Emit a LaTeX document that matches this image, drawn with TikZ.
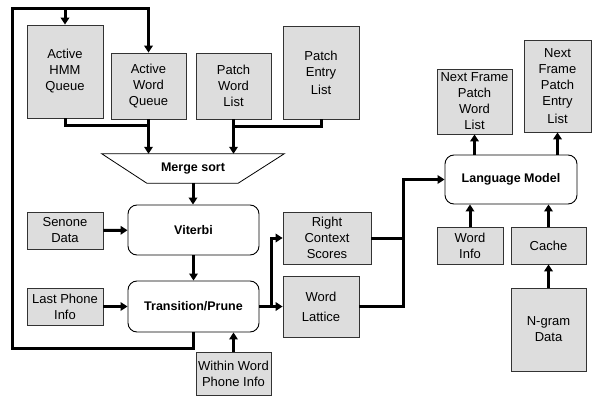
\documentclass[tikz,border=0pt]{standalone}
\usepackage{fontspec}
\setmainfont{Liberation Sans}
\usetikzlibrary{arrows.meta}
\definecolor{boxgray}{RGB}{221,221,221}
\tikzset{
  store/.style={draw=black!80, fill=boxgray, line width=0.8pt, inner sep=0pt, align=center,
    font=\fontsize{13}{16}\selectfont},
  proc/.style={draw, fill=white, rounded corners=9pt, line width=0.9pt, inner sep=0pt, align=center,
    font=\fontsize{12.5}{15}\selectfont\bfseries},
  wire/.style={line width=3pt},
  flow/.style={line width=3pt, -{Triangle[length=7pt,width=8.5pt]}},
}
\begin{document}
\begin{tikzpicture}[x=1pt, y=-1pt]
\useasboundingbox (0,0) rectangle (595,396);

% Queues and lists on top
\node[store, minimum width=76pt, minimum height=93pt] (hmm) at (65,71.5) {Active\\HMM\\Queue};
\node[store, minimum width=75pt, minimum height=66pt] (awq) at (148.5,86) {Active\\Word\\Queue};
\node[store, minimum width=75pt, minimum height=66pt] (pwl) at (233.5,86) {Patch\\Word\\List};
\node[store, minimum width=76pt, minimum height=93pt] (pel) at (321,72.5) {Patch\\Entry\\[2pt]List};

% Merge sort
\node[font=\fontsize{12.5}{15}\selectfont\bfseries, minimum width=182pt, minimum height=29pt, inner sep=0pt] (merge) at (193,168.5) {Merge sort};
\draw[line width=0.8pt] (merge.north west) -- (merge.north east) -- ([xshift=-46pt]merge.south east)
  -- ([xshift=45pt]merge.south west) -- cycle;

% Search blocks
\node[proc, minimum width=131pt, minimum height=50pt] (vit) at (193.5,230) {Viterbi};
\node[proc, minimum width=131pt, minimum height=51pt] (trans) at (193.5,306.5) {Transition/Prune};
\node[store, minimum width=76pt, minimum height=37pt] (senone) at (65,230.5) {Senone\\Data};
\node[store, minimum width=76pt, minimum height=37pt] (lastph) at (65,306.5) {Last Phone\\Info};
\node[store, minimum width=75pt, minimum height=43pt] (within) at (233.5,373.5) {Within Word\\Phone Info};

% Outputs
\node[store, minimum width=88pt, minimum height=52pt] (rcs) at (327,238) {Right\\Context\\Scores};
\node[store, minimum width=76pt, minimum height=61pt] (lat) at (321,306.5) {Word\\[4pt]Lattice};

% Language model side
\node[proc, minimum width=132pt, minimum height=49pt] (lm) at (511,179.5) {Language Model};
\node[store, minimum width=75pt, minimum height=65pt] (nfpwl) at (474.5,101.5) {Next Frame\\Patch\\Word\\List};
\node[store, minimum width=67pt, minimum height=92pt] (nfpel) at (557.5,86) {Next\\Frame\\Patch\\Entry\\[2pt]List};
\node[store, minimum width=66pt, minimum height=37pt] (winfo) at (470,245.5) {Word\\Info};
\node[store, minimum width=75pt, minimum height=37pt] (cache) at (548.5,245.5) {Cache};
\node[store, minimum width=75pt, minimum height=83pt] (ngram) at (548.5,329.5) {N-gram\\Data};

% Feedback loop
\coordinate (loopbl) at (12,348);
\coordinate (looptl) at (12,9);
\draw[flow] (trans.south) |- (loopbl) -- (looptl) -| (awq.north);
\draw[flow] (hmm.north |- looptl) -- (hmm.north);

% Into merge sort
\draw[wire] (hmm.south) -- ++(0,7) -| (awq.south);
\draw[flow] (awq.south) -- (awq.south |- merge.north);
\draw[wire] (pel.south) -- ++(0,7) -| (pwl.south);
\draw[flow] (pwl.south) -- (pwl.south |- merge.north);

% Search path
\draw[flow] (merge.south) -- (merge.south |- vit.north);
\draw[flow] (vit) -- (trans);
\draw[flow] (senone) -- (vit);
\draw[flow] (lastph) -- (trans);
\draw[flow] (within.north) -- (within.north |- trans.south);
\draw[flow] (trans.east) -- ++(12,0) |- (rcs.west);
\draw[flow] (trans.east) -- (lat.west);

% To language model
\coordinate (bus) at (403,0);
\draw[wire] (rcs.east) -- (rcs.east -| bus);
\draw[flow] (lat.east) -| (bus |- lm.west) -- (lm.west);
\draw[flow] (nfpwl.south |- lm.north) -- (nfpwl.south);
\draw[flow] (nfpel.south |- lm.north) -- (nfpel.south);
\draw[flow] (winfo.north) -- (winfo.north |- lm.south);
\draw[flow] (cache.north) -- (cache.north |- lm.south);
\draw[flow] (ngram) -- (cache);
\end{tikzpicture}
\end{document}
